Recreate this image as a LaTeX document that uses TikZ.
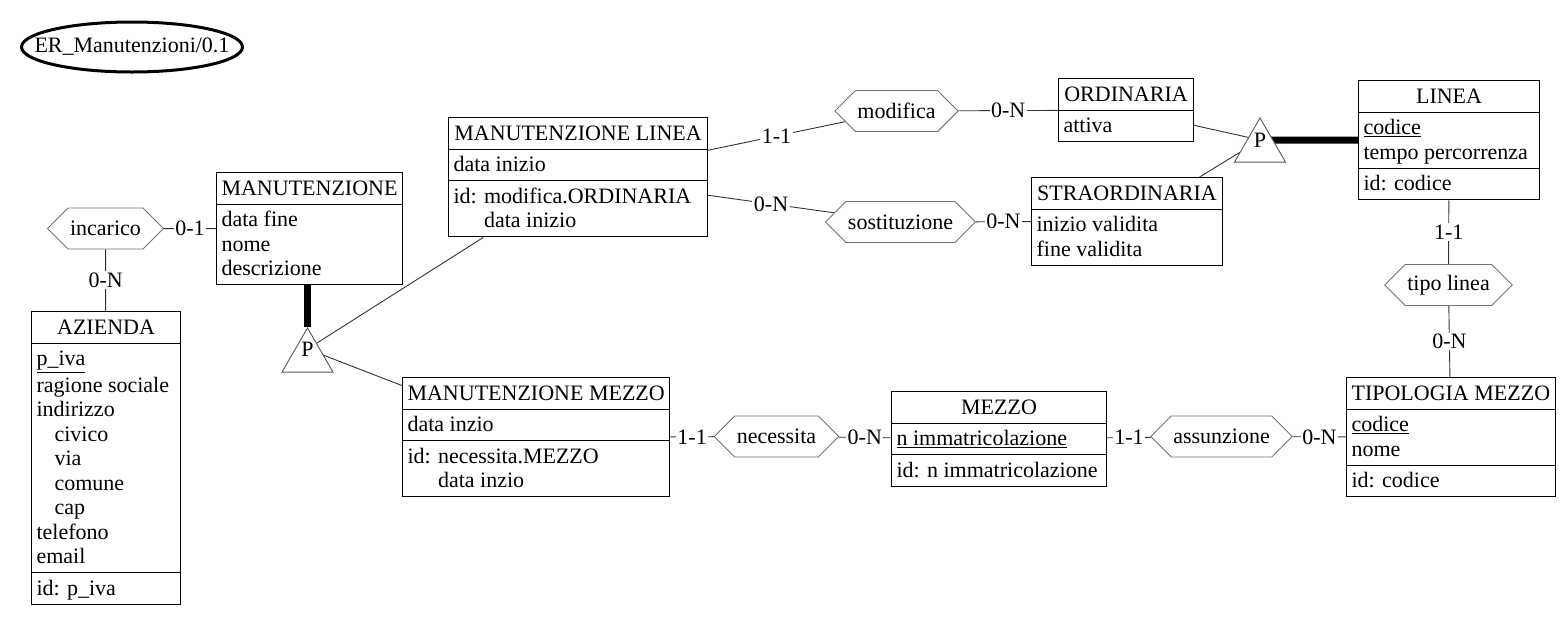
\documentclass[tikz,border=0pt]{standalone}
\usepackage{fontspec}
\setmainfont{Liberation Serif}
\usetikzlibrary{shapes.multipart,shapes.symbols,shapes.geometric,backgrounds}
\newcommand\erline{\rule[-5.5pt]{0pt}{24.5pt}}

\begin{document}
\begin{tikzpicture}[x=1pt, y=-1pt, every node/.style={font=\fontsize{22}{24.5}\selectfont},
  entity/.style={rectangle split, rectangle split parts=3, draw, line width=1.1pt, fill=white,
    align=left, rectangle split part align={center,left,left}, inner xsep=5pt, inner ysep=3pt,
    anchor=north west},
  rel/.style={signal, signal to=west and east, signal pointer angle=90, draw=black!55,
    line width=0.9pt, fill=white, minimum height=41pt, inner xsep=2pt, inner ysep=0pt},
  isa/.style={regular polygon, regular polygon sides=3, minimum size=59pt, inner sep=0pt,
    draw=black!65, line width=0.9pt, fill=white},
  link/.style={black!80, line width=0.9pt},
  isalink/.style={black, line width=7pt},
  card/.style={fill=white, text=black, inner sep=1.5pt}]
  \useasboundingbox (0,0) rectangle (1562,633);
  \node[draw, ellipse, line width=3pt, minimum width=221pt, minimum height=50pt, inner sep=0pt]
    (schema) at (132,47) {\makebox[0pt]{ER\_Manutenzioni/0.1}};
  % entities
  \node[entity, rectangle split parts=2, minimum width=184pt] (man) at (216,172)
    {\erline MANUTENZIONE \nodepart{two} \erline data fine\\ \erline nome\\ \erline descrizione};
  \node[entity, minimum width=149pt] (azi) at (31,311)
    {\erline AZIENDA \nodepart{two} \erline\underline{p\_iva}\\ \erline ragione sociale\\ \erline indirizzo\\
     \erline\hspace*{18pt}civico\\ \erline\hspace*{18pt}via\\ \erline\hspace*{18pt}comune\\
     \erline\hspace*{18pt}cap\\ \erline telefono\\ \erline email
     \nodepart{three} \erline id: p\_iva};
  \node[entity, minimum width=259pt] (ml) at (448,117)
    {\erline MANUTENZIONE LINEA \nodepart{two} \erline data inizio
     \nodepart{three} \erline id: modifica.ORDINARIA\\ \erline\phantom{id: }data inizio};
  \node[entity, minimum width=265pt] (mm) at (402,377)
    {\erline MANUTENZIONE MEZZO \nodepart{two} \erline data inzio
     \nodepart{three} \erline id: necessita.MEZZO\\ \erline\phantom{id: }data inzio};
  \node[entity, rectangle split parts=2, minimum width=135pt] (ord) at (1058,78)
    {\erline ORDINARIA \nodepart{two} \erline attiva};
  \node[entity, rectangle split parts=2, minimum width=191pt] (stra) at (1031,177)
    {\erline STRAORDINARIA \nodepart{two} \erline inizio validita\\ \erline fine validita};
  \node[entity, minimum width=181pt] (lin) at (1358,80)
    {\erline LINEA \nodepart{two} \erline\underline{codice}\\ \erline tempo percorrenza
     \nodepart{three} \erline id: codice};
  \node[entity, minimum width=215pt] (mez) at (891,391)
    {\erline MEZZO \nodepart{two} \erline\underline{n immatricolazione}
     \nodepart{three} \erline id: n immatricolazione};
  \node[entity, minimum width=206pt] (tm) at (1346,377)
    {\erline TIPOLOGIA MEZZO \nodepart{two} \erline\underline{codice}\\ \erline nome
     \nodepart{three} \erline id: codice};
  % relationships
  \node[rel] (inc) at (105.5,228.5) {incarico};
  \node[rel] (mod) at (896.5,111) {modifica};
  \node[rel] (sost) at (900.5,222) {sostituzione};
  \node[rel] (nec) at (776.5,436.5) {necessita};
  \node[rel] (ass) at (1221.5,436.5) {assunzione};
  \node[rel] (tipo) at (1448.5,285) {tipo linea};
  % is-a triangles
  \node[isa] (gman) at (307.5,357.4) {};
  \node (pman) at (307.5,349) {P};
  \node[isa] (glin) at (1260,147.4) {};
  \node (plin) at (1260,140) {P};
  \begin{pgfonlayer}{background}
    \draw[link] (inc) -- node[card] {0-1} (man);
    \draw[link] (inc) -- node[card] {0-N} (azi);
    \draw[link] (ml) -- node[card] {1-1} (mod);
    \draw[link] (mod) -- node[card] {0-N} (ord);
    \draw[link] (ml) -- node[card] {0-N} (sost);
    \draw[link] (sost) -- node[card] {0-N} (stra);
    \draw[link] (mm) -- node[card] {1-1} (nec);
    \draw[link] (nec) -- node[card] {0-N} (mez);
    \draw[link] (mez) -- node[card] {1-1} (ass);
    \draw[link] (ass) -- node[card] {0-N} (tm);
    \draw[link] (lin) -- node[card] {1-1} (tipo);
    \draw[link] (tipo) -- node[card] {0-N} (tm);
    % generalizations
    \draw[isalink] (gman.corner 1) -- (gman.corner 1 |- man.south);
    \draw[link] (pman) -- (ml);
    \draw[link] (pman) -- (mm);
    \draw[isalink] (plin) -- (lin);
    \draw[link] (plin) -- (ord);
    \draw[link] (plin) -- (stra);
  \end{pgfonlayer}
\end{tikzpicture}
\end{document}
